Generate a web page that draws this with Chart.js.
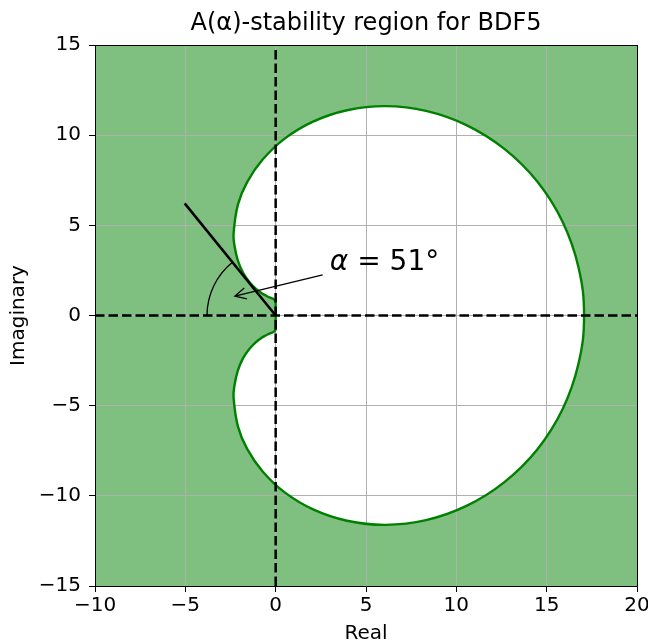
<!DOCTYPE html>
<html>
<head>
<meta charset="utf-8">
<script src="https://cdn.jsdelivr.net/npm/chart.js@4/dist/chart.umd.min.js"></script>
<style>
  html, body { margin: 0; padding: 0; background: #fff; }
</style>
</head>
<body>
<canvas id="chart" width="648" height="644"></canvas>
<script>
// axis ranges and ticks
const X_MIN = -10, X_MAX = 20;
const Y_MIN = -15, Y_MAX = 15;
const TICK_STEP = 5;

// boundary of the BDF5 stability region, traced from the origin
// over the upper lobe to the real-axis crossing and back along the lower lobe
const boundaryRe = [
    0.00, 0.00, 0.00, 0.00, -0.02, -0.11, -0.20, -0.35, -0.55, -0.81,
    -1.12, -1.47, -1.81, -2.10, -2.29, -2.33, -2.09, -1.58, -0.72, 0.50,
    2.07, 3.95, 6.07, 8.32, 10.56, 12.66, 14.48, 15.88, 16.76, 17.07,
    16.76, 15.88, 14.48, 12.66, 10.56, 8.32, 6.07, 3.95, 2.07, 0.50,
    -0.72, -1.58, -2.09, -2.33, -2.29, -2.10, -1.81, -1.47, -1.12, -0.81,
    -0.55, -0.35, -0.20, -0.11, -0.02, 0.00, 0.00, 0.00, 0.00
];
const boundaryIm = [
    0.00, 0.35, 0.52, 0.68, 0.81, 0.91, 0.95, 1.01, 1.11, 1.26,
    1.50, 1.87, 2.38, 3.07, 3.94, 4.55, 6.15, 7.40, 8.65, 9.81,
    10.75, 11.38, 11.61, 11.35, 10.56, 9.24, 7.43, 5.20, 2.68, 0.00,
    -2.68, -5.20, -7.43, -9.24, -10.56, -11.35, -11.61, -11.38, -10.75, -9.81,
    -8.65, -7.40, -6.15, -4.55, -3.94, -3.07, -2.38, -1.87, -1.50, -1.26,
    -1.11, -1.01, -0.95, -0.91, -0.81, -0.68, -0.52, -0.35, 0.00
];

// A(alpha) wedge
const ALPHA_DEG = 51;
const RAY_LENGTH = 8;
const ARC_RADIUS = 3.8;
const ARROW_TIP_R = 2.5;
const ARROW_TAIL = [2.6, 2.25];
const LABEL_POS = [3.0, 2.55];

const alpha = ALPHA_DEG * Math.PI / 180;
const GREEN = '#008000';
const FONT = 'DejaVu Sans';
const DASH = [9.5, 4];
const TITLE = 'A(\u03b1)-stability region for BDF5';

const boundary = boundaryRe.map((re, i) => ({ x: re, y: boundaryIm[i] }));
const outside = [
    { x: X_MIN, y: Y_MIN }, { x: X_MAX, y: Y_MIN },
    { x: X_MAX, y: Y_MAX }, { x: X_MIN, y: Y_MAX }, { x: X_MIN, y: Y_MIN }
];
const ray = [
    { x: 0, y: 0 },
    { x: -RAY_LENGTH * Math.cos(alpha), y: RAY_LENGTH * Math.sin(alpha) }
];

const minus = v => String(v).replace('-', '\u2212');

// arc, arrow and label for the angle
const wedgeLabel = {
    id: 'wedgeLabel',
    afterDatasetsDraw(chart) {
        const { ctx, scales: { x, y } } = chart;
        const x0 = x.getPixelForValue(0);
        const y0 = y.getPixelForValue(0);
        const rx = x.getPixelForValue(ARC_RADIUS) - x0;
        const ry = y0 - y.getPixelForValue(ARC_RADIUS);

        ctx.save();
        ctx.strokeStyle = '#000';
        ctx.lineWidth = 1.3;
        ctx.beginPath();
        ctx.ellipse(x0, y0, rx, ry, 0, Math.PI, Math.PI + alpha);
        ctx.stroke();

        const hx = x.getPixelForValue(-ARROW_TIP_R * Math.cos(alpha / 2));
        const hy = y.getPixelForValue(ARROW_TIP_R * Math.sin(alpha / 2));
        const tx = x.getPixelForValue(ARROW_TAIL[0]);
        const ty = y.getPixelForValue(ARROW_TAIL[1]);
        ctx.beginPath();
        ctx.moveTo(tx, ty);
        ctx.lineTo(hx, hy);
        const ang = Math.atan2(ty - hy, tx - hx);
        const hl = 11, hw = 5.6;
        const bx = hx + hl * Math.cos(ang), by = hy + hl * Math.sin(ang);
        ctx.moveTo(bx - hw * Math.sin(ang), by + hw * Math.cos(ang));
        ctx.lineTo(hx, hy);
        ctx.lineTo(bx + hw * Math.sin(ang), by - hw * Math.cos(ang));
        ctx.stroke();

        const lx = x.getPixelForValue(LABEL_POS[0]);
        const ly = y.getPixelForValue(LABEL_POS[1]);
        ctx.fillStyle = '#000';
        ctx.textBaseline = 'alphabetic';
        ctx.textAlign = 'left';
        ctx.font = `italic 28px "${FONT}"`;
        ctx.fillText('\u03b1', lx, ly);
        const w = ctx.measureText('\u03b1').width;
        ctx.font = `28px "${FONT}"`;
        ctx.fillText(` = ${ALPHA_DEG}\u00b0`, lx + w, ly);
        ctx.restore();
    }
};

// top and right spines; the top one also carries the title so it is centred on the plot
const frameAxis = (position, size, title) => ({
    type: 'linear',
    position,
    min: position === 'top' ? X_MIN : Y_MIN,
    max: position === 'top' ? X_MAX : Y_MAX,
    ticks: { display: false },
    grid: { drawOnChartArea: false, drawTicks: false },
    border: { color: '#000', width: 1 },
    title: title ? {
        display: true, text: title, color: '#000',
        font: { family: FONT, size: 24, lineHeight: 1.2 },
        padding: { top: 9.6, bottom: 0 }
    } : { display: false },
    afterFit(scale) {
        if (position === 'top') scale.height = size; else scale.width = size;
    }
});

new Chart(document.getElementById('chart'), {
    type: 'scatter',
    data: {
        datasets: [
            {
                label: 'real axis',
                data: [{ x: X_MIN, y: 0 }, { x: X_MAX, y: 0 }],
                showLine: true, borderColor: '#000', borderWidth: 2.5,
                borderDash: DASH, pointRadius: 0, fill: false, order: 0
            },
            {
                label: 'imaginary axis',
                data: [{ x: 0, y: Y_MIN }, { x: 0, y: Y_MAX }],
                showLine: true, borderColor: '#000', borderWidth: 2.5,
                borderDash: DASH, pointRadius: 0, fill: false, order: 0
            },
            {
                label: 'alpha ray',
                data: ray,
                showLine: true, borderColor: '#000', borderWidth: 2.5,
                pointRadius: 0, fill: false, order: 1
            },
            {
                label: 'boundary',
                data: boundary,
                showLine: true, borderColor: GREEN, borderWidth: 2.4,
                backgroundColor: '#ffffff', fill: 'shape',
                tension: 0.4, pointRadius: 0, order: 2
            },
            {
                label: 'stable region',
                data: outside,
                showLine: true, borderWidth: 0, borderColor: 'rgba(0,0,0,0)',
                backgroundColor: 'rgba(0,128,0,0.5)', fill: 'shape',
                pointRadius: 0, order: 3
            }
        ]
    },
    options: {
        responsive: false,
        animation: false,
        events: [],
        devicePixelRatio: 1,
        layout: { padding: 0 },
        plugins: {
            legend: { display: false },
            tooltip: { enabled: false },
            filler: { drawTime: 'beforeDraw' },
            title: { display: false }
        },
        scales: {
            x: {
                type: 'linear',
                position: 'bottom',
                min: X_MIN, max: X_MAX,
                ticks: {
                    stepSize: TICK_STEP, color: '#000', padding: 2,
                    font: { family: FONT, size: 20 }, callback: minus
                },
                grid: { color: '#b0b0b0', lineWidth: 1, tickColor: '#000', tickLength: 6 },
                border: { color: '#000', width: 1 },
                title: {
                    display: true, text: 'Real', color: '#000',
                    font: { family: FONT, size: 20, lineHeight: 1 }, padding: { top: 0, bottom: 0 }
                },
                afterFit(scale) {
                    scale.height = 58;
                    scale.paddingLeft = 0;
                    scale.paddingRight = 0;
                }
            },
            y: {
                type: 'linear',
                position: 'left',
                min: Y_MIN, max: Y_MAX,
                ticks: {
                    stepSize: TICK_STEP, color: '#000', padding: 8,
                    font: { family: FONT, size: 20 }, callback: minus
                },
                grid: { color: '#b0b0b0', lineWidth: 1, tickColor: '#000', tickLength: 6 },
                border: { color: '#000', width: 1 },
                title: {
                    display: true, text: 'Imaginary', color: '#000',
                    font: { family: FONT, size: 20, lineHeight: 1 }, padding: { top: 9, bottom: 0 }
                },
                afterFit(scale) {
                    scale.width = 95;
                    scale.paddingTop = 0;
                    scale.paddingBottom = 0;
                }
            },
            xTop: frameAxis('top', 45, TITLE),
            yRight: frameAxis('right', 11)
        }
    },
    plugins: [wedgeLabel]
});
</script>
</body>
</html>
